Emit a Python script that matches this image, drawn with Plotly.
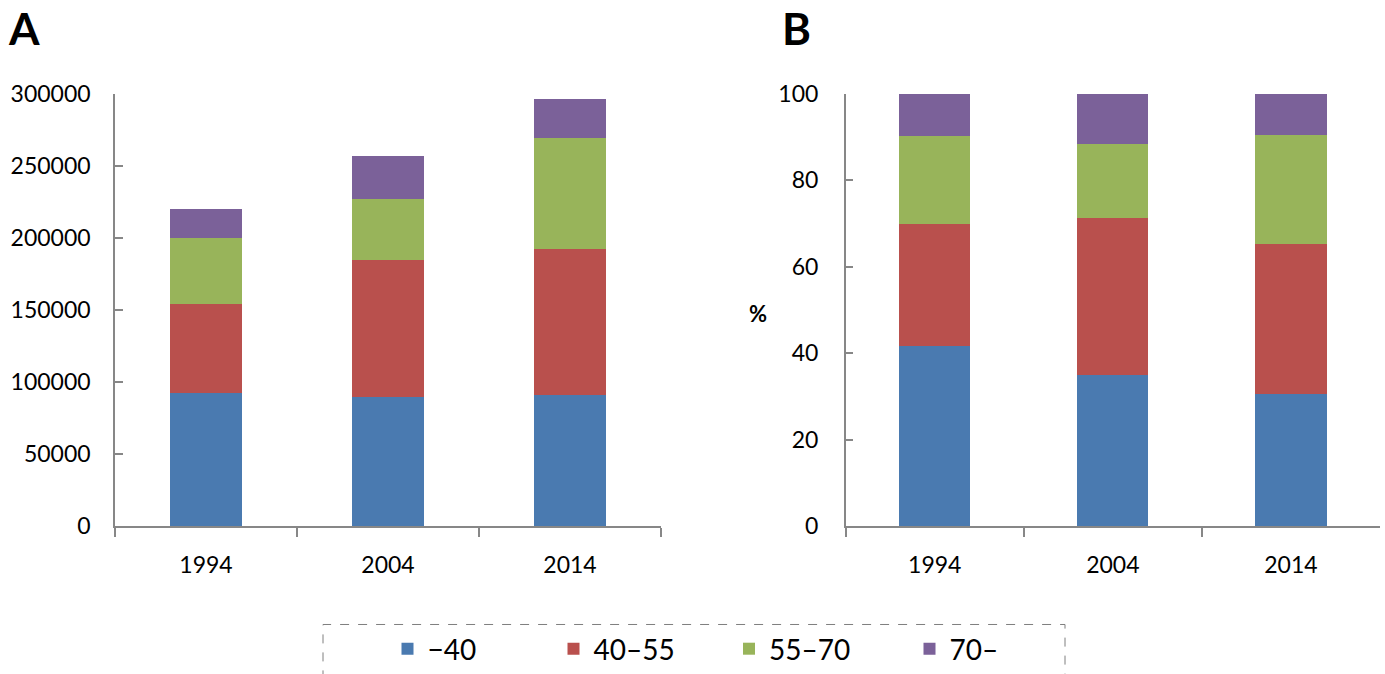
import plotly.graph_objects as go

years = ["1994", "2004", "2014"]
age_groups = ["\u221240", "40\u201355", "55\u201370", "70\u2013"]
colors = ["#4a7ab0", "#b9504d", "#98b45a", "#7b6199"]

# Panel A: absolute numbers
abs_under40 = [92500, 89500, 90800]
abs_40_55 = [62000, 95200, 101850]
abs_55_70 = [45200, 42250, 76750]
abs_over70 = [20150, 29950, 27350]

# Panel B: percentages
pct_under40 = [41.6, 35.0, 30.7]
pct_40_55 = [28.4, 36.4, 34.6]
pct_55_70 = [20.2, 16.9, 25.3]
pct_over70 = [9.8, 11.7, 9.4]

abs_series = [abs_under40, abs_40_55, abs_55_70, abs_over70]
pct_series = [pct_under40, pct_40_55, pct_55_70, pct_over70]

W, H = 1385, 674
FONT = "Lato"
AXCOL = "#878787"
legend_ids = ["legend", "legend2", "legend3", "legend4"]
legend_sym_x = [407.5, 573.5, 749, 929.5]

fig = go.Figure()
for name, vals, col, lid in zip(age_groups, abs_series, colors, legend_ids):
    fig.add_trace(go.Bar(x=years, y=vals, name=name, marker_color=col,
                         marker_line_width=0, xaxis="x", yaxis="y",
                         legend=lid, legendgroup=name, showlegend=True))
for name, vals, col in zip(age_groups, pct_series, colors):
    fig.add_trace(go.Bar(x=years, y=vals, name=name, marker_color=col,
                         marker_line_width=0, xaxis="x2", yaxis="y2",
                         legendgroup=name, showlegend=False))

def px_x(p):
    return p / W

def px_y(p):
    return (H - p) / H

ydom = [px_y(532.7), px_y(95)]
xaxis_common = dict(
    type="category", showline=True, linecolor=AXCOL, linewidth=1.5,
    ticks="outside", tickson="boundaries", ticklen=9, tickcolor=AXCOL, tickwidth=1.5,
    showgrid=False, zeroline=False, automargin=False,
    tickfont=dict(family=FONT, size=23, color="#000000"),
    ticklabelstandoff=17,
)
yaxis_common = dict(
    showline=True, linecolor=AXCOL, linewidth=1.5,
    ticks="inside", ticklen=8, tickcolor=AXCOL, tickwidth=1.5,
    showgrid=False, zeroline=False, automargin=False,
    tickfont=dict(family=FONT, size=23, color="#000000"),
)

legend_layout = {}
for lid, sx in zip(legend_ids, legend_sym_x):
    legend_layout[lid] = dict(
        orientation="h", x=px_x(sx - 20), xanchor="left",
        y=px_y(657), yanchor="middle",
        font=dict(family=FONT, size=28, color="#000000"),
        bgcolor="rgba(0,0,0,0)", borderwidth=0)

fig.update_layout(
    width=W, height=H,
    margin=dict(l=0, r=0, t=0, b=0),
    paper_bgcolor="white", plot_bgcolor="white",
    barmode="stack", bargap=0.6,
    font=dict(family=FONT, color="#000000"),
    xaxis=dict(domain=[px_x(115), px_x(661)], anchor="y", **xaxis_common),
    yaxis=dict(domain=ydom, anchor="x", range=[0, 300000], dtick=50000,
               tickformat="d", ticklabelstandoff=18, **yaxis_common),
    xaxis2=dict(domain=[px_x(845.7), px_x(1380)], anchor="y2", **xaxis_common),
    yaxis2=dict(domain=ydom, anchor="x2", range=[0, 100], dtick=20,
                ticklabelstandoff=21, **yaxis_common),
    shapes=[dict(type="rect", xref="paper", yref="paper",
                 x0=px_x(323), x1=px_x(1065), y0=-0.1, y1=px_y(632),
                 line=dict(color="#7f7f7f", width=1, dash="dash"),
                 fillcolor="rgba(0,0,0,0)", layer="below")],
    annotations=[
        dict(text="<b>A</b>", x=px_x(24), y=px_y(28), xref="paper", yref="paper",
             xanchor="center", yanchor="middle", showarrow=False,
             font=dict(family=FONT, size=44, color="#000000")),
        dict(text="<b>B</b>", x=px_x(796.5), y=px_y(28), xref="paper", yref="paper",
             xanchor="center", yanchor="middle", showarrow=False,
             font=dict(family=FONT, size=44, color="#000000")),
        dict(text="<b>%</b>", x=px_x(758), y=px_y(317), xref="paper", yref="paper",
             xanchor="center", yanchor="middle", showarrow=False,
             font=dict(family=FONT, size=22, color="#000000")),
    ],
    **legend_layout,
)

fig.write_html("out.html", config={"displayModeBar": False},
               post_script="document.body.style.margin='0';document.body.style.overflow='hidden';")
